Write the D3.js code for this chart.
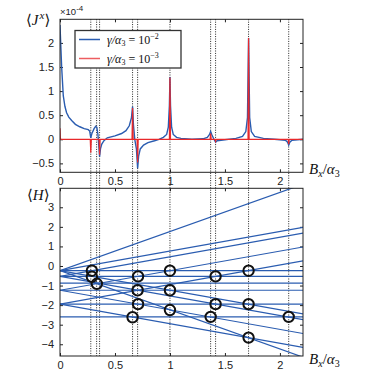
<!DOCTYPE html>
<html>
<head>
<meta charset="utf-8">
<script src="https://cdn.jsdelivr.net/npm/d3@7"></script>
<style>
  body { margin: 0; background: #fff; }
  svg { display: block; }
  .tick text { font-family: "Liberation Sans", Arial, sans-serif; font-size: 11px; fill: #222; }
  .tick line { stroke: #222; }
  .math { font-family: "Liberation Serif", "DejaVu Serif", serif; font-style: italic; fill: #111; }
</style>
</head>
<body>
<script>
// ---- data ----
// top panel: <J^x> (x 1e-4) against Bx/alpha3
var blueX = [0, 0.008, 0.015, 0.03, 0.045, 0.06, 0.08, 0.106, 0.14, 0.18, 0.22, 0.257, 0.27, 0.28, 0.29, 0.31, 0.325, 0.335, 0.345, 0.355, 0.36, 0.368, 0.38, 0.4, 0.43, 0.5, 0.56, 0.6, 0.63, 0.65, 0.66, 0.668, 0.68, 0.695, 0.706, 0.715, 0.73, 0.76, 0.8, 0.86, 0.9, 0.94, 0.97, 0.985, 0.995, 1.0, 1.005, 1.015, 1.03, 1.06, 1.1, 1.2, 1.3, 1.34, 1.36, 1.37, 1.38, 1.4, 1.415, 1.43, 1.5, 1.6, 1.66, 1.69, 1.705, 1.715, 1.725, 1.74, 1.77, 1.85, 1.95, 2.05, 2.07, 2.08, 2.09, 2.11, 2.21];
var blueY = [2.37, 1.9, 1.5, 0.9, 0.68, 0.55, 0.46, 0.39, 0.31, 0.26, 0.22, 0.2, 0.17, 0.03, 0.12, 0.22, 0.27, 0.25, 0.1, -0.2, -0.36, -0.2, -0.1, -0.03, 0.03, 0.07, 0.12, 0.18, 0.28, 0.45, 0.68, 0.3, 0.0, -0.2, -0.6, -0.35, -0.2, -0.12, -0.07, -0.03, 0.0, 0.04, 0.1, 0.25, 0.7, 1.29, 0.7, 0.25, 0.1, 0.04, 0.02, 0.0, 0.01, 0.04, 0.1, 0.16, 0.1, 0.0, -0.06, -0.03, -0.01, 0.02, 0.06, 0.16, 0.45, 2.1, 0.45, 0.16, 0.06, 0.02, 0.0, -0.02, -0.06, -0.12, -0.06, -0.02, 0.0];
var redX = [0, 0.003, 0.01, 0.275, 0.28, 0.285, 0.355, 0.36, 0.365, 0.655, 0.66, 0.665, 0.701, 0.706, 0.711, 0.995, 1.0, 1.005, 1.365, 1.37, 1.375, 1.41, 1.415, 1.42, 1.71, 1.715, 1.72, 2.075, 2.08, 2.085, 2.21];
var redY = [0.23, 0.02, 0, 0, -0.28, 0, 0, -0.32, 0, 0, 0.65, 0, 0, -0.48, 0, 0, 1.28, 0, 0, 0.12, 0, 0, -0.04, 0, 0, 2.1, 0, 0, -0.1, 0, 0];
var seriesNames = ["10^-2", "10^-3"];

// resonance positions (dotted lines)
var resonances = [0.28, 0.333, 0.36, 0.66, 0.706, 1.0, 1.37, 1.415, 1.715, 2.08];

// bottom panel: <H> levels, zero-field value and slope of each line
var levelE0 =    [-0.24, -0.24, -0.24, -0.24, -0.24, -0.53, -0.53, -0.53, -0.88, -1.24, -1.24, -1.24, -1.95, -1.95, -1.95, -2.6];
var levelSlope = [2, 1, 0, -1, -2, 1, 0, -1, 0, 1, 0, -1, 1, 0, -1, 0];

// level crossings (circles)
var crossX = [0.29, 0.29, 0.335, 0.71, 0.706, 0.71, 0.66, 1.0, 1.0, 1.0, 1.415, 1.715, 1.415, 1.715, 1.37, 2.08, 1.715];
var crossY = [-0.24, -0.55, -0.91, -0.53, -1.24, -1.95, -2.62, -0.24, -1.24, -2.25, -0.53, -0.24, -1.95, -1.95, -2.6, -2.6, -3.66];

var xTicks = [0, 0.5, 1, 1.5, 2],
    jTicks = [-0.5, 0, 0.5, 1, 1.5, 2],
    hTicks = [-4, -3, -2, -1, 0, 1, 2, 3];

var blue = "#2a5cb0", red = "#e8282b";

// ---- layout ----
var left = 60, right = 303;
var topPanel = { top: 19.3, bottom: 172.3 },
    botPanel = { top: 188.3, bottom: 356 };

var svg = d3.select("body").append("svg")
  .attr("width", 374)
  .attr("height", 384);

var x = d3.scaleLinear().domain([0, 2.21]).range([left, right]);
var yJ = d3.scaleLinear().domain([-0.685, 2.49]).range([topPanel.bottom, topPanel.top]);
var yH = d3.scaleLinear().domain([-4.6, 3.97]).range([botPanel.bottom, botPanel.top]);

function translate(a, b) { return "translate(" + a + "," + b + ")"; }
function noLabel() { return ""; }

// clip paths
var defs = svg.append("defs");
[["clipTop", topPanel], ["clipBot", botPanel]].forEach(function(c) {
  defs.append("clipPath").attr("id", c[0])
    .append("rect")
      .attr("x", left).attr("y", c[1].top)
      .attr("width", right - left).attr("height", c[1].bottom - c[1].top);
});

// axes for a panel
function drawAxes(y, panel, yTickVals) {
  var g = svg.append("g");
  g.append("g").attr("transform", translate(0, panel.bottom))
    .call(d3.axisBottom(x).tickValues(xTicks).tickSize(-3).tickPadding(5).tickFormat(d3.format("")));
  g.append("g").attr("transform", translate(0, panel.top))
    .call(d3.axisTop(x).tickValues(xTicks).tickSize(-3).tickFormat(noLabel));
  g.append("g").attr("transform", translate(left, 0))
    .call(d3.axisLeft(y).tickValues(yTickVals).tickSize(-3).tickPadding(6).tickFormat(d3.format("")));
  g.append("g").attr("transform", translate(right, 0))
    .call(d3.axisRight(y).tickValues(yTickVals).tickSize(-3).tickFormat(noLabel));
  g.selectAll(".domain").remove();
  return g;
}

drawAxes(yJ, topPanel, jTicks);
drawAxes(yH, botPanel, hTicks);

// dotted resonance lines across both panels
svg.append("g").selectAll("line")
  .data(resonances)
  .enter().append("line")
    .attr("x1", function(d) { return x(d); })
    .attr("x2", function(d) { return x(d); })
    .attr("y1", topPanel.top)
    .attr("y2", botPanel.bottom)
    .attr("stroke", "#222")
    .attr("stroke-width", 1)
    .attr("stroke-dasharray", "1,1.4");

// top panel curves
var lineJ = d3.line()
  .x(function(d) { return x(d[0]); })
  .y(function(d) { return yJ(d[1]); });

var topContent = svg.append("g").attr("clip-path", "url(#clipTop)");
topContent.append("path")
  .datum(d3.zip(blueX, blueY))
  .attr("d", lineJ)
  .attr("fill", "none")
  .attr("stroke", blue)
  .attr("stroke-width", 1.4);
topContent.append("path")
  .datum(d3.zip(redX, redY))
  .attr("d", lineJ)
  .attr("fill", "none")
  .attr("stroke", red)
  .attr("stroke-width", 1.2);

// bottom panel levels
var botContent = svg.append("g").attr("clip-path", "url(#clipBot)");
botContent.selectAll(".level")
  .data(d3.zip(levelE0, levelSlope))
  .enter().append("line")
    .attr("class", "level")
    .attr("x1", x(0))
    .attr("y1", function(d) { return yH(d[0]); })
    .attr("x2", x(2.21))
    .attr("y2", function(d) { return yH(d[0] + d[1] * 2.21); })
    .attr("stroke", blue)
    .attr("stroke-width", 1.2);

botContent.selectAll(".cross")
  .data(d3.zip(crossX, crossY))
  .enter().append("circle")
    .attr("class", "cross")
    .attr("cx", function(d) { return x(d[0]); })
    .attr("cy", function(d) { return yH(d[1]); })
    .attr("r", 5.2)
    .attr("fill", "none")
    .attr("stroke", "#111")
    .attr("stroke-width", 2);

// boxes
[topPanel, botPanel].forEach(function(p) {
  svg.append("rect")
    .attr("x", left).attr("y", p.top)
    .attr("width", right - left).attr("height", p.bottom - p.top)
    .attr("fill", "none")
    .attr("stroke", "#222")
    .attr("stroke-width", 1);
});

// legend
var legend = svg.append("g").attr("class", "legend");
legend.append("rect")
  .attr("x", 75).attr("y", 30.5)
  .attr("width", 106).attr("height", 37.5)
  .attr("fill", "#fff")
  .attr("stroke", "#333")
  .attr("stroke-width", 1.3);
[[blue, seriesNames[0], 39.5], [red, seriesNames[1], 58.5]].forEach(function(item) {
  legend.append("line")
    .attr("x1", 79).attr("x2", 100)
    .attr("y1", item[2]).attr("y2", item[2])
    .attr("stroke", item[0])
    .attr("stroke-width", 1.5)
    .attr("opacity", item[0] === red ? 0.75 : 1);
  var exp = item[1].split("^")[1];
  var t = legend.append("text")
    .attr("class", "math")
    .attr("x", 107).attr("y", item[2] + 4)
    .attr("font-size", 12);
  t.append("tspan").text("\u03b3/\u03b1");
  t.append("tspan").attr("font-size", 8).attr("dy", 2.5).attr("font-style", "normal").text("3");
  t.append("tspan").attr("dy", -2.5).attr("font-style", "normal").text(" = 10");
  t.append("tspan").attr("font-size", 8).attr("dy", -5).attr("font-style", "normal").text(exp.replace("-", "\u2212"));
});

// axis labels
function bxLabel(yPos) {
  var t = svg.append("text").attr("class", "math")
    .attr("x", 309).attr("y", yPos).attr("font-size", 15);
  t.append("tspan").text("B");
  t.append("tspan").attr("font-size", 10).attr("dy", 3).text("x");
  t.append("tspan").attr("dy", -3).attr("font-style", "normal").text("/");
  t.append("tspan").text("\u03b1");
  t.append("tspan").attr("font-size", 10).attr("dy", 3).attr("font-style", "normal").text("3");
}
bxLabel(174);
bxLabel(364);

var jl = svg.append("text").attr("class", "math")
  .attr("x", 26).attr("y", 25).attr("font-size", 15);
jl.append("tspan").attr("font-style", "normal").text("\u27e8");
jl.append("tspan").text("J");
jl.append("tspan").attr("font-size", 11).attr("dx", 1).attr("dy", -6).text("x");
jl.append("tspan").attr("dy", 6).attr("font-style", "normal").text("\u27e9");

var sc = svg.append("text")
  .attr("x", 60).attr("y", 15)
  .attr("font-family", "Liberation Sans, Arial, sans-serif")
  .attr("font-size", 9.5).attr("fill", "#222");
sc.append("tspan").text("\u00d710");
sc.append("tspan").attr("font-size", 8).attr("dy", -4).text("-4");

var hl = svg.append("text").attr("class", "math")
  .attr("x", 27).attr("y", 200).attr("font-size", 15);
hl.append("tspan").attr("font-style", "normal").text("\u27e8");
hl.append("tspan").text("H");
hl.append("tspan").attr("font-style", "normal").text("\u27e9");
</script>
</body>
</html>
